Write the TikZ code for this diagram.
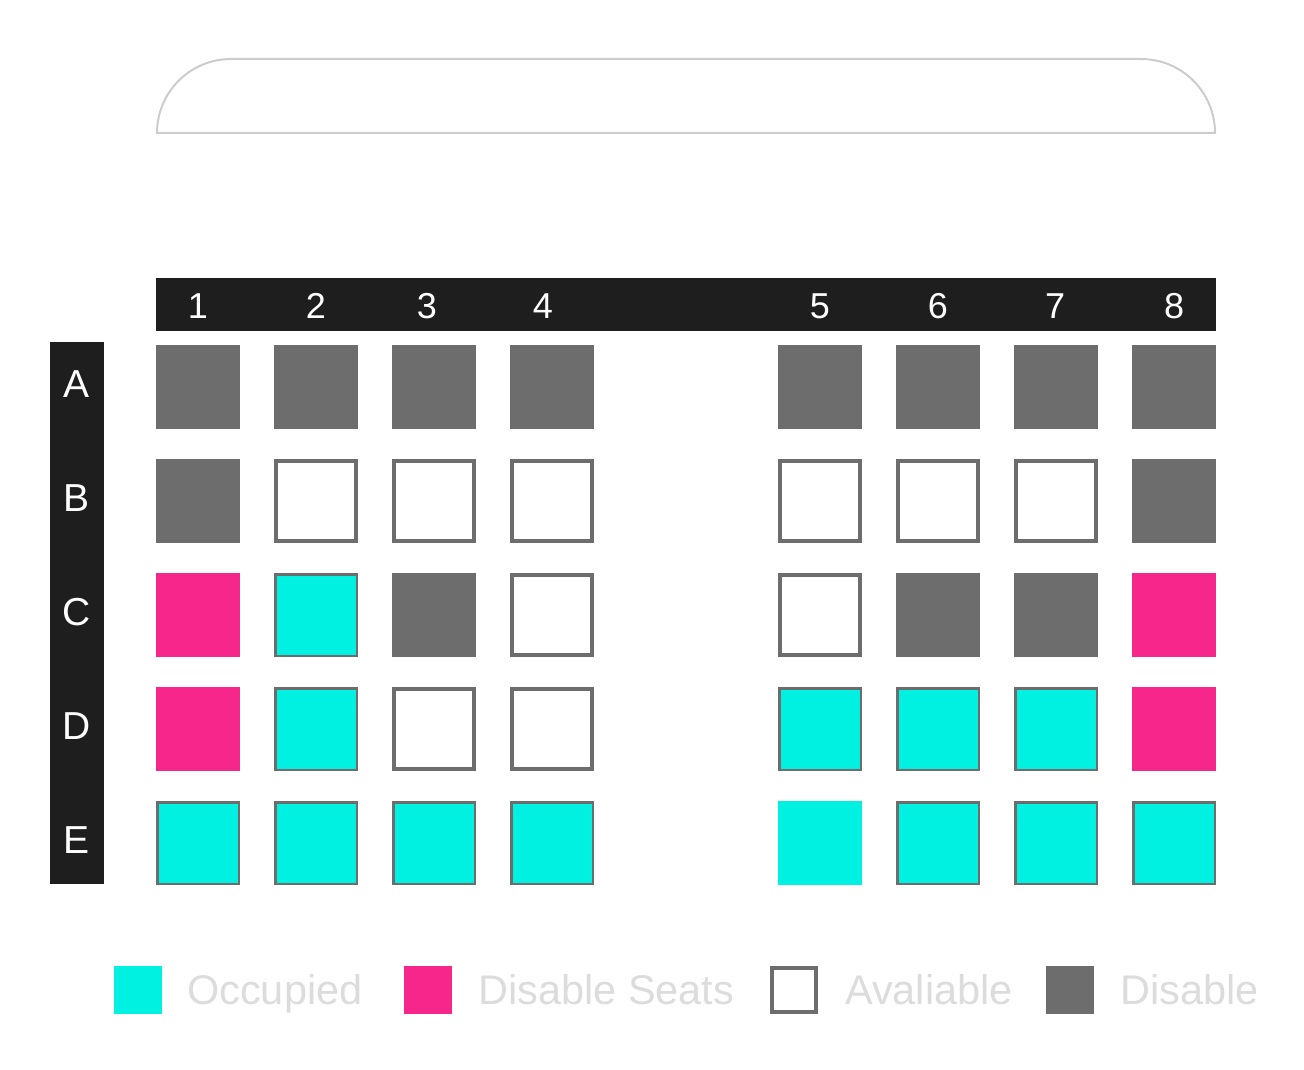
\documentclass[tikz,border=0pt]{standalone}
\usepackage{fontspec}
\setmainfont{Liberation Sans}
\definecolor{occupied}{HTML}{00F0E1}
\definecolor{seatpink}{HTML}{F7268B}
\definecolor{seatgray}{HTML}{6D6D6D}
\definecolor{barblack}{HTML}{1E1E1E}
\definecolor{legendtext}{HTML}{DCDCDC}
\definecolor{screenline}{HTML}{CCCCCC}
\begin{document}
\begin{tikzpicture}[
x=1pt,y=-1pt,
seat/.style={rectangle,inner sep=0pt,outer sep=0pt,minimum size=84pt},
dis/.style={seat,fill=seatgray},
dseat/.style={seat,fill=seatpink},
free/.style={seat,fill=white,draw=seatgray,line width=4pt,minimum size=80pt},
occ/.style={seat,fill=occupied,draw=seatgray,line width=2.5pt,minimum size=81.5pt},
occn/.style={seat,fill=occupied},
bartext/.style={text=white,font=\fontsize{36}{40}\selectfont,inner sep=0pt},
rowtext/.style={text=white,font=\fontsize{39}{44}\selectfont,inner sep=0pt},
legtext/.style={text=legendtext,font=\fontsize{41.5}{46}\selectfont,inner sep=0pt,anchor=base west}
]
\useasboundingbox (0,0) rectangle (1304,1070);
% screen
\draw[screenline,line width=2pt] (157,133) arc[start angle=180,end angle=90,radius=74pt]
  -- (1141,59) arc[start angle=90,end angle=0,radius=74pt] -- (1215,133) -- cycle;
% column and row bars
\node[fill=barblack,inner sep=0pt,minimum width=1060pt,minimum height=53pt] (colbar) at (686,304.5) {};
\node[fill=barblack,inner sep=0pt,minimum width=54pt,minimum height=542pt] (rowbar) at (77,613) {};
\foreach \n/\x in {1/198,2/316,3/427,4/543,5/820,6/938,7/1055,8/1174}
  \node[bartext] (num\n) at (\x,306) {\n};
\foreach \r/\y in {A/384,B/498,C/612,D/726,E/840}
  \node[rowtext] (row\r) at (77,\y) {\r};
% seats
\foreach \c/\x/\s in {1/198/dis,2/316/dis,3/434/dis,4/552/dis,5/820/dis,6/938/dis,7/1056/dis,8/1174/dis}
  \node[\s] (A\c) at (\x,387) {};
\foreach \c/\x/\s in {1/198/dis,2/316/free,3/434/free,4/552/free,5/820/free,6/938/free,7/1056/free,8/1174/dis}
  \node[\s] (B\c) at (\x,501) {};
\foreach \c/\x/\s in {1/198/dseat,2/316/occ,3/434/dis,4/552/free,5/820/free,6/938/dis,7/1056/dis,8/1174/dseat}
  \node[\s] (C\c) at (\x,615) {};
\foreach \c/\x/\s in {1/198/dseat,2/316/occ,3/434/free,4/552/free,5/820/occ,6/938/occ,7/1056/occ,8/1174/dseat}
  \node[\s] (D\c) at (\x,729) {};
\foreach \c/\x/\s in {1/198/occ,2/316/occ,3/434/occ,4/552/occ,5/820/occn,6/938/occ,7/1056/occ,8/1174/occ}
  \node[\s] (E\c) at (\x,843) {};
% legend
\node[occn,minimum size=48pt] (keyocc) at (138,990) {};
\node[legtext] (labocc) at (187,1004) {Occupied};
\node[dseat,minimum size=48pt] (keydseat) at (428,990) {};
\node[legtext] (labdseat) at (478,1004) {Disable Seats};
\node[free,minimum size=44pt] (keyfree) at (794,990) {};
\node[legtext] (labfree) at (845,1004) {Avaliable};
\node[dis,minimum size=48pt] (keydis) at (1070,990) {};
\node[legtext] (labdis) at (1120,1004) {Disable};
\end{tikzpicture}
\end{document}
